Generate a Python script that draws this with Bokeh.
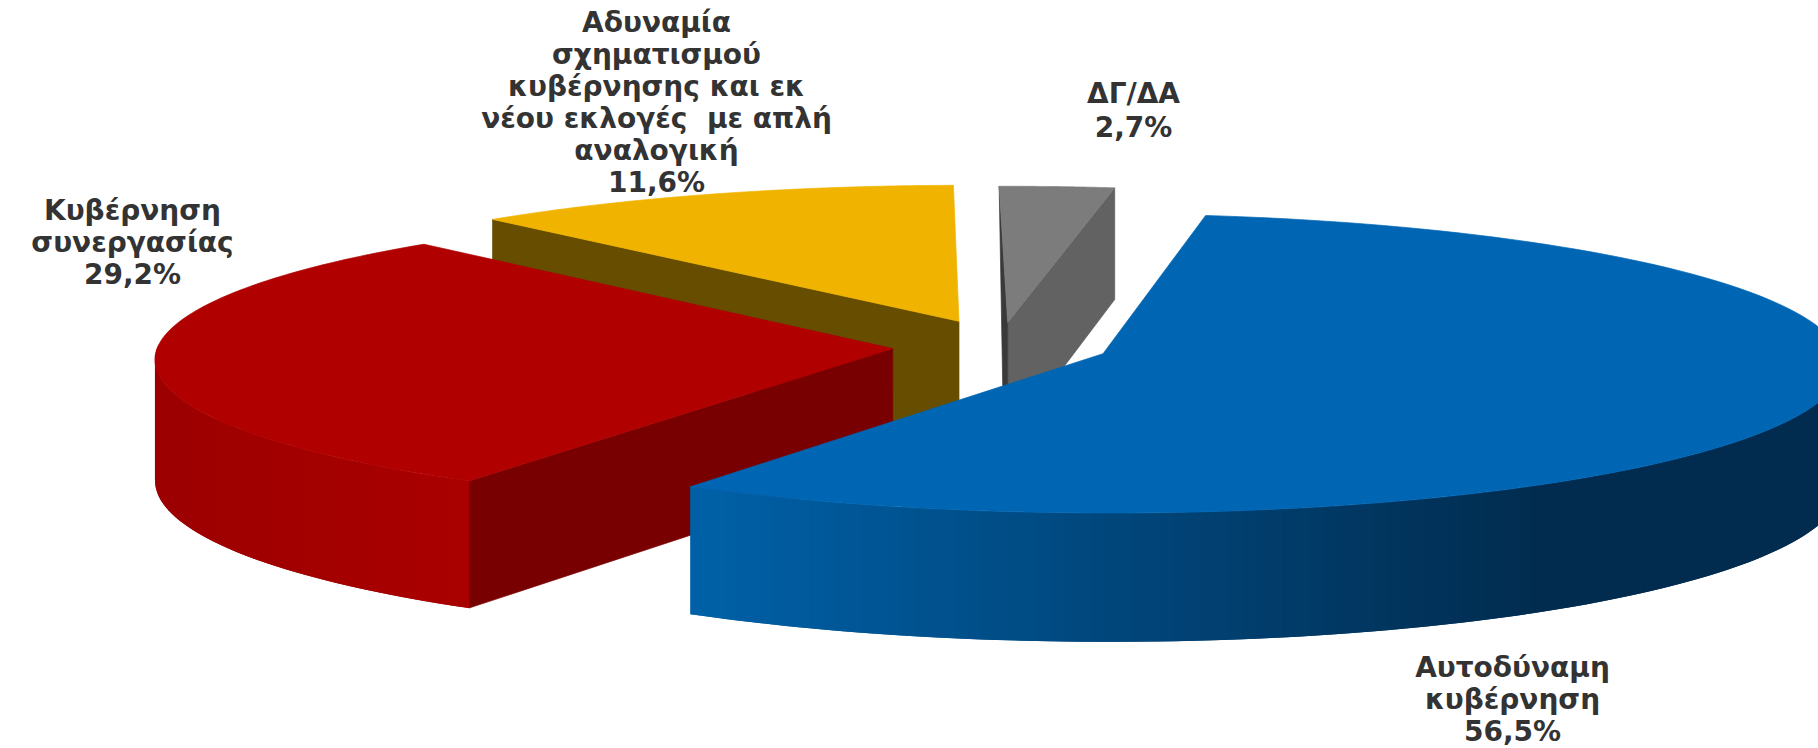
import math
from bokeh.plotting import figure
from bokeh.models import Range1d
from bokeh.core.properties import value
from bokeh.embed import file_html
from bokeh.resources import INLINE

# ---- data ----
categories = ["Αυτοδύναμη κυβέρνηση", "Κυβέρνηση συνεργασίας",
              "Αδυναμία σχηματισμού κυβέρνησης και εκ νέου εκλογές με απλή αναλογική", "ΔΓ/ΔΑ"]
shares = [56.5, 29.2, 11.6, 2.7]
share_labels = ["56,5%", "29,2%", "11,6%", "2,7%"]
label_lines = [
    ["Αυτοδύναμη", "κυβέρνηση"],
    ["Κυβέρνηση", "συνεργασίας"],
    ["Αδυναμία", "σχηματισμού", "κυβέρνησης και εκ", "νέου εκλογές \u00a0με απλή", "αναλογική"],
    ["ΔΓ/ΔΑ"],
]

# ---- styling / geometry of the 3D pie ----
W, H = 1818, 748
explode = [0.137, 0.158, 0.185, 0.165]
nudge_x = [0.0, 0.0, 0.0, -0.013]
top_col = ["#0066B3", "#B00000", "#F0B400", "#7C7C7C"]
side_col = ["#0066B3", "#780000", "#664D00", "#626262"]
ROT = 9.0
CX, CY, RX, RY, PERSP, DEPTH = 1008.0, 346.0, 735.0, 148.0, 0.065, 120.0
label_x = [1512, 132, 656, 1133]
label_y0 = [667, 210, 22, 93]
label_dy = [32, 32, 32, 34]


def proj(u, v, h=0.0):
    w = 1.0 / (1.0 + PERSP * v)
    return CX + RX * u * w, CY - RY * v * w + DEPTH * h * w


def lerp_hex(c1, c2, t):
    a = [int(c1[i:i + 2], 16) for i in (1, 3, 5)]
    b = [int(c2[i:i + 2], 16) for i in (1, 3, 5)]
    return "#%02x%02x%02x" % tuple(round(x + (y - x) * t) for x, y in zip(a, b))


p = figure(width=W, height=H, x_range=Range1d(0, W), y_range=Range1d(H, 0),
           output_backend="svg", toolbar_location=None, min_border=0,
           x_axis_type=None, y_axis_type=None, outline_line_color=None)
p.grid.visible = False
p.background_fill_color = "white"
p.border_fill_color = "white"


def draw(xs, ys, color, line=True):
    p.patch(xs, ys, fill_color=color, line_color=color if line else None, line_width=0.7)


# slice angular extents, clockwise from the top
total = sum(shares)
starts, ends = [], []
cur = ROT
for s in shares:
    starts.append(cur)
    cur += 360.0 * s / total
    ends.append(cur)


def apex(i):
    mid = math.radians((starts[i] + ends[i]) / 2)
    return explode[i] * math.sin(mid) + nudge_x[i], explode[i] * math.cos(mid)


def rim(i, deg):
    a = apex(i)
    t = math.radians(deg)
    return a[0] + math.sin(t), a[1] + math.cos(t)


def radial_wall(i, deg, color):
    a = apex(i)
    r = rim(i, deg)
    pts = [proj(*a), proj(*r), proj(*r, 1), proj(*a, 1)]
    draw([q[0] for q in pts], [q[1] for q in pts], color)


def outer_wall(i, a0, a1, c_dark, c_light, x_dark, x_light, step=1.0):
    """Wall of the rim in overlapping strips; colour runs with screen x, held beyond x_dark."""
    n = max(2, int(abs(a1 - a0) / step))
    for j in range(n):
        d0 = a0 + (a1 - a0) * j / n
        d1 = a0 + (a1 - a0) * min(n, j + 2) / n
        r0, r1 = rim(i, d0), rim(i, d1)
        pts = [proj(*r0), proj(*r1), proj(*r1, 1), proj(*r0, 1)]
        t = (proj(*r0)[0] - x_dark) / (x_light - x_dark)
        t = max(0.0, min(1.0, t))
        draw([q[0] for q in pts], [q[1] for q in pts], lerp_hex(c_dark, c_light, t), line=False)


def top_face(i):
    n = 120
    pts = [proj(*apex(i))]
    for j in range(n + 1):
        pts.append(proj(*rim(i, starts[i] + (ends[i] - starts[i]) * j / n)))
    draw([q[0] for q in pts], [q[1] for q in pts], top_col[i])


# grey slice (back)
radial_wall(3, ends[3], side_col[3])
a3 = proj(*apex(3))
a3b = proj(*apex(3), 1)
r3 = proj(*rim(3, starts[3]))
draw([r3[0], a3[0], a3b[0], a3b[0] - 4], [r3[1], a3[1], a3b[1], a3b[1]], "#3A3A3A")
top_face(3)

# yellow slice
radial_wall(2, starts[2], side_col[2])
top_face(2)

# red slice
radial_wall(1, starts[1], side_col[1])
outer_wall(1, 272.0, starts[1], "#AA0000", "#9C0000", 470.0, 155.0)
top_face(1)

# blue slice (front)
outer_wall(0, 88.0, ends[0], "#012C4F", "#0061A8", 1544.0, 691.0)
top_face(0)

# labels
xs, ys, txt = [], [], []
for i, lines in enumerate(label_lines):
    all_lines = lines + [share_labels[i]]
    for j, line in enumerate(all_lines):
        xs.append(label_x[i])
        ys.append(label_y0[i] + j * label_dy[i])
        txt.append(line)
p.text(x=xs, y=ys, text=txt, text_align="center", text_baseline="middle",
       text_font=value("DejaVu Sans"), text_font_style="bold",
       text_font_size="28px", text_color="#333333")

open("out.html", "w").write(file_html(p, INLINE))
